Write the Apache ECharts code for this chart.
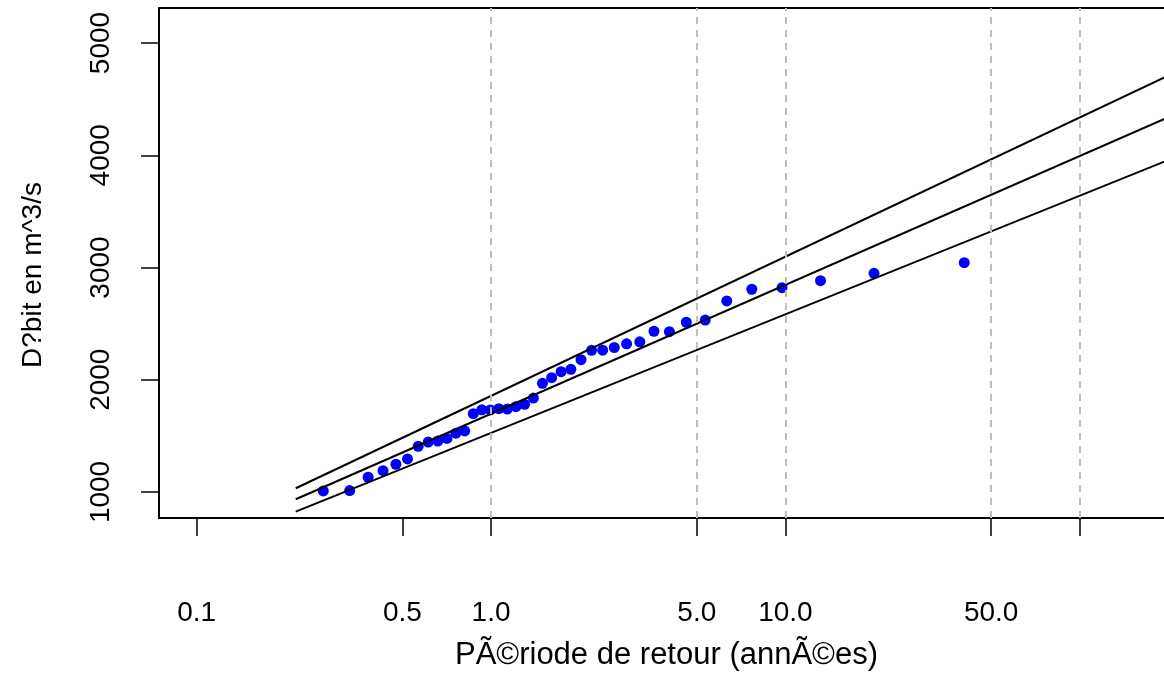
<!DOCTYPE html>
<html>
<head>
<meta charset="utf-8">
<script src="https://cdn.jsdelivr.net/npm/echarts@6/dist/echarts.min.js"></script>
<style>
  html, body { margin: 0; padding: 0; background: #ffffff; }
  #chart { width: 1164px; height: 675px; }
</style>
</head>
<body>
<div id="chart"></div>
<script>
// Observed annual peaks: return period (years) and discharge (m^3/s)
const returnPeriods = [
  0.2693, 0.3311, 0.3824, 0.4297, 0.4753, 0.5203, 0.5657, 0.6120, 0.6595, 0.7087,
  0.7600, 0.8139, 0.8706, 0.9306, 0.9945, 1.0627, 1.1359, 1.2148, 1.3002, 1.3931,
  1.4947, 1.6064, 1.7298, 1.8674, 2.0214, 2.1954, 2.3941, 2.6219, 2.8877, 3.2010,
  3.5765, 4.0355, 4.6061, 5.3419, 6.3211, 7.6878, 9.7405, 13.160, 19.996, 40.50
];
const discharges = [
  1009, 1012, 1131, 1190, 1247, 1294, 1407, 1445, 1454, 1477,
  1524, 1544, 1697, 1732, 1731, 1742, 1739, 1760, 1781, 1837,
  1968, 2018, 2072, 2093, 2179, 2262, 2263, 2287, 2320, 2338,
  2432, 2428, 2512, 2532, 2702, 2806, 2820, 2882, 2948, 3043
];

// Fitted law and its confidence band, evaluated at both ends of the range
const fitPeriods = [0.2171, 200];
const fitUpper   = [1033, 4710];
const fitCentral = [935, 4340];
const fitLower   = [825, 3958];

// Axis ticks and reference lines
const xTicks      = [0.1, 0.5, 1, 5, 10, 50, 100];
const xLabelTicks = [0.1, 0.5, 1, 5, 10, 50];
const xGridLines  = [1, 5, 10, 50, 100];
const yTicks      = [1000, 2000, 3000, 4000, 5000];

const xTitle = 'PÃ©riode de retour (annÃ©es)';
const yTitle = 'D?bit en m^3/s';

const FONT = 'Liberation Sans, Arial, Helvetica, sans-serif';

const pairs = (xs, ys) => xs.map((x, i) => [x, ys[i]]);

function fitSeries(ys) {
  return {
    type: 'line',
    data: pairs(fitPeriods, ys),
    showSymbol: false,
    symbol: 'none',
    silent: true,
    clip: true,
    lineStyle: { color: '#000000', width: 2 },
    z: 4
  };
}

const chart = echarts.init(document.getElementById('chart'), null, { renderer: 'canvas' });

chart.setOption({
  animation: false,
  backgroundColor: '#ffffff',
  grid: {
    left: 159,
    top: 8,
    right: -10,
    bottom: 157,
    show: true,
    borderColor: '#000000',
    borderWidth: 2,
    backgroundColor: 'transparent',
    containLabel: false,
    outerBoundsMode: 'none'
  },
  xAxis: {
    type: 'log',
    logBase: 10,
    min: 0.0745,
    max: 208.9,
    name: xTitle,
    nameLocation: 'middle',
    nameGap: 122,
    nameTextStyle: { color: '#000000', fontSize: 31, fontFamily: FONT },
    axisLine: { show: false },
    axisTick: {
      show: true,
      inside: false,
      length: 18,
      customValues: xTicks,
      lineStyle: { color: '#000000', width: 1.5 }
    },
    axisLabel: {
      show: true,
      margin: 81,
      color: '#000000',
      fontSize: 28,
      fontFamily: FONT,
      customValues: xLabelTicks,
      formatter: v => Number(v).toFixed(1)
    },
    splitLine: { show: false },
    minorTick: { show: false },
    minorSplitLine: { show: false }
  },
  yAxis: {
    type: 'value',
    min: 768,
    max: 5312,
    name: yTitle,
    nameLocation: 'middle',
    nameGap: 112,
    nameRotate: 90,
    nameTextStyle: {
      color: '#000000',
      fontSize: 28,
      fontFamily: FONT,
      padding: [0, 24, 0, 0]
    },
    axisLine: { show: false },
    axisTick: {
      show: true,
      inside: false,
      length: 18,
      customValues: yTicks,
      lineStyle: { color: '#000000', width: 1.5 }
    },
    axisLabel: {
      show: true,
      rotate: 90,
      margin: 44,
      color: '#000000',
      fontSize: 28,
      fontFamily: FONT,
      customValues: yTicks,
      formatter: v => String(v)
    },
    splitLine: { show: false }
  },
  series: [
    {
      // vertical reference lines
      type: 'line',
      data: [],
      silent: true,
      markLine: {
        silent: true,
        symbol: ['none', 'none'],
        label: { show: false },
        lineStyle: { color: '#BEBEBE', width: 2, type: [7, 6] },
        data: xGridLines.map(v => ({ xAxis: v }))
      },
      z: 1
    },
    {
      type: 'scatter',
      data: pairs(returnPeriods, discharges),
      symbol: 'circle',
      symbolSize: 11,
      itemStyle: { color: '#0000FF', opacity: 1 },
      silent: true,
      z: 3
    },
    fitSeries(fitUpper),
    fitSeries(fitCentral),
    fitSeries(fitLower)
  ]
});
</script>
</body>
</html>
